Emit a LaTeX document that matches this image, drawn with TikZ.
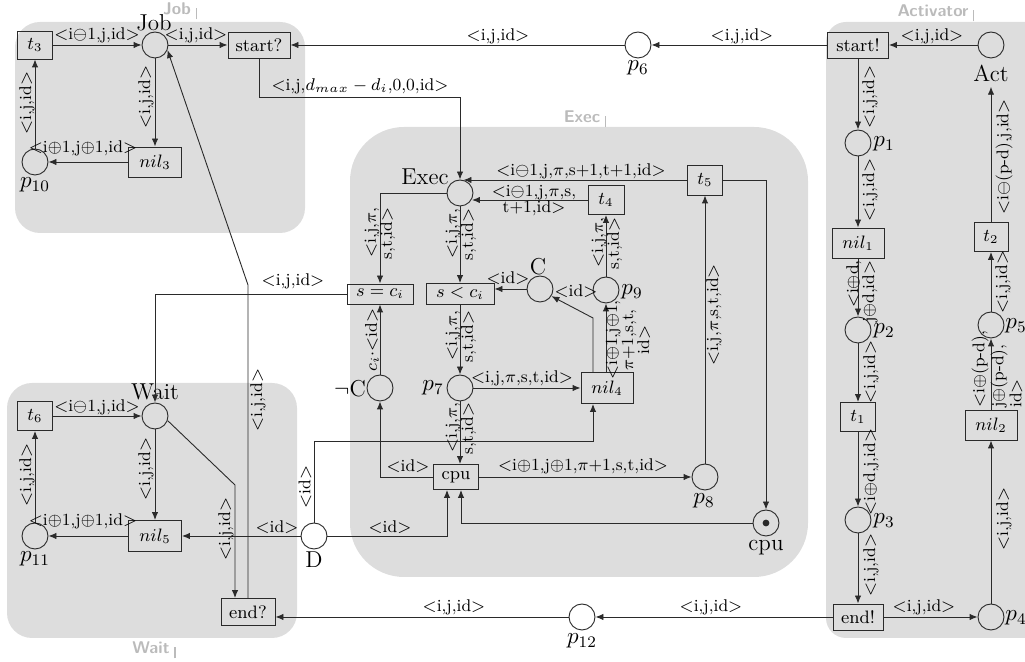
\RequirePackage{fix-cm}
\documentclass[tikz,border=0pt]{standalone}
\usetikzlibrary{arrows.meta}
\definecolor{modgray}{HTML}{DDDDDD}
\definecolor{titlegray}{HTML}{BBBBBB}
\definecolor{ln}{HTML}{2A2A2A}
\newcommand\lAng{$<$}
\newcommand\rAng{$>$}
\tikzset{
 place/.style={circle, draw=ln, line width=0.45pt, minimum size=13pt, inner sep=0pt},
 trans/.style={draw=ln, line width=0.45pt, inner sep=0pt, font=\fontsize{9}{10}\selectfont},
 lbl/.style={inner sep=0pt, font=\fontsize{8.5}{8}\selectfont},
 rlbl/.style={lbl, rotate=90},
 big/.style={inner sep=0pt, font=\fontsize{11.5}{12}\selectfont},
 arc/.style={draw=ln, line width=0.45pt, -{Latex[length=4pt,width=3.2pt]}},
 modtitle/.style={text=titlegray, font=\sffamily\bfseries\fontsize{8.5}{9}\selectfont, inner sep=0pt},
 tick/.style={draw=titlegray, line width=0.6pt},
}
\begin{document}
\begin{tikzpicture}[x=0.5pt,y=-0.5pt]
\useasboundingbox (0,0) rectangle (1025,662);
% modules
\fill[modgray, rounded corners=12.5pt] (15,22) rectangle (305,233);
\fill[modgray, rounded corners=27pt] (350,127) rectangle (808,577);
\fill[modgray, rounded corners=10pt] (826,22) rectangle (1060,638);
\fill[modgray, rounded corners=12.5pt] (7,383) rectangle (297,638);
\node[modtitle] (mJob) at (177,9) {Job};
\draw[tick] ([xshift=2.5pt,yshift=-2pt]mJob.south east) -- ++(0,-11);
\node[modtitle] (mExec) at (582,117) {Exec};
\draw[tick] ([xshift=2.5pt,yshift=-2pt]mExec.south east) -- ++(0,-11);
\node[modtitle] (mAct) at (933,11) {Activator};
\draw[tick] ([xshift=2.5pt,yshift=-2pt]mAct.south east) -- ++(0,-11);
\node[modtitle] (mWait) at (151,648) {Wait};
\draw[tick] ([xshift=2.5pt,yshift=-2pt]mWait.south east) -- ++(0,-11);

% Job module
\node[trans, minimum width=17.5pt, minimum height=14pt] (t3) at (35,45) {$t_3$};
\node[place] (Job) at (155,45) {};
\node[big] (lJob) at (154,23) {Job};
\node[trans, minimum width=31pt, minimum height=13pt] (startq) at (259,45) {start?};
\node[trans, minimum width=26.5pt, minimum height=15pt] (nil3) at (155,162) {$nil_3$};
\node[place] (p10) at (35,162) {};
\node[big] (lp10) at (35,185) {$p_{10}$};

% top
\node[place] (p6) at (638,45) {};
\node[big] (lp6) at (638,68) {$p_6$};

% Activator
\node[trans, minimum width=30.5pt, minimum height=13pt] (startb) at (858,45) {start!};
\node[place] (Act) at (991,45) {};
\node[big] (lAct) at (991,73) {Act};
\node[place] (p1) at (858,143) {};
\node[big] (lp1) at (884,144) {$p_1$};
\node[trans, minimum width=26pt, minimum height=15pt] (nil1) at (858,243) {$nil_1$};
\node[place] (p2) at (858,330) {};
\node[big] (lp2) at (884,331) {$p_2$};
\node[trans, minimum width=17.5pt, minimum height=14.5pt] (t1) at (858,417) {$t_1$};
\node[place] (p3) at (858,520) {};
\node[big] (lp3) at (884,521) {$p_3$};
\node[trans, minimum width=25pt, minimum height=13pt] (endb) at (858,617) {end!};
\node[place] (p4) at (991,617) {};
\node[big] (lp4) at (1016,618) {$p_4$};
\node[trans, minimum width=26pt, minimum height=15pt] (nil2) at (991,425) {$nil_2$};
\node[place] (p5) at (991,325) {};
\node[big] (lp5) at (1016,326) {$p_5$};
\node[trans, minimum width=17pt, minimum height=14.5pt] (t2) at (991,237) {$t_2$};

% Exec module
\node[place] (Exec) at (460,193) {};
\node[big] (lExec) at (425,177) {Exec};
\node[trans, minimum width=17.5pt, minimum height=15pt] (t5) at (705,180) {$t_5$};
\node[trans, minimum width=18pt, minimum height=14.5pt] (t4) at (606,200) {$t_4$};
\node[trans, minimum width=33pt, minimum height=10pt] (sc) at (380,294) {$s = c_i$};
\node[trans, minimum width=34pt, minimum height=10.5pt] (sl) at (460,294) {$s < c_i$};
\node[place] (C) at (540,289) {};
\node[big] (lC) at (538,267) {C};
\node[place] (p9) at (606,290) {};
\node[big] (lp9) at (632,292) {$p_9$};
\node[trans, minimum width=26pt, minimum height=15.5pt] (nil4) at (607,388) {$nil_4$};
\node[place] (p7) at (460,388) {};
\node[big] (lp7) at (433,388) {$p_7$};
\node[place] (nC) at (380,388) {};
\node[big] (lnC) at (350,389) {$\neg$C};
\node[trans, minimum width=22.5pt, minimum height=12.5pt] (cpuT) at (456,477) {cpu};
\node[place] (p8) at (705,477) {};
\node[big] (lp8) at (704,501) {$p_8$};
\node[place] (cpuP) at (766,523) {};
\fill[ln] (cpuP) circle (1.7pt);
\node[big] (lcpuP) at (766,548) {cpu};
\node[place] (D) at (314,536) {};
\node[big] (lD) at (314,560) {D};

% Wait module
\node[trans, minimum width=17.5pt, minimum height=14.5pt] (t6) at (35,416) {$t_6$};
\node[place] (Wait) at (155,416) {};
\node[big] (lWait) at (155,392) {Wait};
\node[trans, minimum width=26.5pt, minimum height=15.5pt] (nil5) at (155,536) {$nil_5$};
\node[place] (p11) at (35,536) {};
\node[big] (lp11) at (35,559) {$p_{11}$};
\node[trans, minimum width=27pt, minimum height=13.5pt] (endq) at (248,612) {end?};
\node[place] (p12) at (582,617) {};
\node[big] (lp12) at (582,641) {$p_{12}$};

% coordinates for bends
\coordinate (b1) at (460,97);
\coordinate (k1) at (593,318);
\coordinate (k2) at (593,441);
\coordinate (k3) at (447,536);
\coordinate (k4) at (461,523);
\coordinate (k5) at (235,485);
\coordinate (k6) at (248,285);

% Job connectors
\draw[arc] (t3.east) -- (Job.west);
\draw[arc] (Job.east) -- (startq.west);
\draw[arc] (Job.south) -- (nil3.north);
\draw[arc] (nil3.west) -- (p10.east);
\draw[arc] (p10.north) -- (t3.south);
\draw[arc] (p6.west) -- (startq.east);
\draw[arc] (startb.west) -- (p6.east);
\draw[arc] (Act.west) -- (startb.east);
\draw[arc] (startq.south) |- (b1) -- (Exec.north);
\draw[arc] (k6 |- endq.north) -- (k6) -- (Job.-22);

% Activator connectors
\draw[arc] (startb.south) -- (p1.north);
\draw[arc] (p1.south) -- (nil1.north);
\draw[arc] (nil1.south) -- (p2.north);
\draw[arc] (p2.south) -- (t1.north);
\draw[arc] (t1.south) -- (p3.north);
\draw[arc] (p3.south) -- (endb.north);
\draw[arc] (endb.east) -- (p4.west);
\draw[arc] (p4.north) -- (nil2.south);
\draw[arc] (nil2.north) -- (p5.south);
\draw[arc] (p5.north) -- (t2.south);
\draw[arc] (t2.north) -- ([yshift=-2.5pt]t2.north |- lAct.south);
\draw[arc] (endb.west) -- (p12.east);
\draw[arc] (p12.west) -- (p12.west -| endq.east);

% Exec connectors
\draw[arc] (t5.west) -- (t5.west -| Exec.75);
\draw[arc] (t4.west) -- (t4.west -| Exec.-27);
\draw[arc] (Exec.west) -| (sc.north);
\draw[arc] (Exec.south) -- (sl.north);
\draw[arc] (C.west) -- (C.west -| sl.east);
\draw[arc] (nil4.north -| k1) -- (k1) -- (C.-32);
\draw[arc] (p9.north) -- (t4.south);
\draw[arc] (nil4.north -| p9) -- (p9.south);
\draw[arc] (sl.south) -- (p7.north);
\draw[arc] (p7.east) -- (nil4.west);
\draw[arc] (p7.south) -- (cpuT.north -| p7);
\draw[arc] (cpuT.west) -| (nC.south);
\draw[arc] (nC.north) -- (sc.south);
\draw[arc] (cpuT.east) -- (p8.west);
\draw[arc] (p8.north) -- (t5.south);
\draw[arc] (t5.east) -| (cpuP.north);
\draw[arc] (cpuP.west) -- (k4) -- (k4 |- cpuT.south);
\draw[arc] (D.north) |- (k2) -- (k2 |- nil4.south);
\draw[arc] (D.east) -- (k3) -- (k3 |- cpuT.south);
\draw[arc] (D.west) -- (nil5.east);
\draw[arc] (sc.west) -| (Wait.north);

% Wait connectors
\draw[arc] (nil5.west) -- (p11.east);
\draw[arc] (p11.north) -- (t6.south);
\draw[arc] (t6.east) -- (Wait.west);
\draw[arc] (Wait.south) -- (nil5.north);
\draw[arc] (Wait.-20) -- (k5) -- (k5 |- endq.north);

% horizontal labels
\node[lbl] (a1) at (97,35) {\lAng i$\ominus$1,j,id\rAng};
\node[lbl] (a2) at (196,35) {\lAng i,j,id\rAng};
\node[lbl] (a3) at (83,148) {\lAng i$\oplus$1,j$\oplus$1,id\rAng};
\node[lbl] (a4) at (498,36) {\lAng i,j,id\rAng};
\node[lbl] (a5) at (742,36) {\lAng i,j,id\rAng};
\node[lbl] (a6) at (932,36) {\lAng i,j,id\rAng};
\node[lbl] (a7) at (360,86) {\lAng i,j,$d_{max} - d_i$,0,0,id\rAng};
\node[lbl] (a8) at (581,171) {\lAng i$\ominus$1,j,$\pi$,s+1,t+1,id\rAng};
\node[lbl, align=center] (a9) at (534,200) {\lAng i$\ominus$1,j,$\pi$,s,\\t+1,id\rAng};
\node[lbl] (a10) at (508,278) {\lAng id\rAng};
\node[lbl] (a11) at (576,291) {\lAng id\rAng};
\node[lbl] (a12) at (522,378) {\lAng i,j,$\pi$,s,t,id\rAng};
\node[lbl] (a13) at (408,466) {\lAng id\rAng};
\node[lbl] (a14) at (583,466) {\lAng i$\oplus$1,j$\oplus$1,$\pi$+1,s,t,id\rAng};
\node[lbl] (a15) at (390,527) {\lAng id\rAng};
\node[lbl] (a16) at (277,527) {\lAng id\rAng};
\node[lbl] (a17) at (293,281) {\lAng i,j,id\rAng};
\node[lbl] (a18) at (97,407) {\lAng i$\ominus$1,j,id\rAng};
\node[lbl] (a19) at (83,521) {\lAng i$\oplus$1,j$\oplus$1,id\rAng};
\node[lbl] (a20) at (924,607) {\lAng i,j,id\rAng};
\node[lbl] (a21) at (711,607) {\lAng i,j,id\rAng};
\node[lbl] (a22) at (454,607) {\lAng i,j,id\rAng};

% rotated single-line labels
\node[rlbl] (r1) at (146,97) {\lAng i,j,id\rAng};
\node[rlbl] (r2) at (27,103) {\lAng i,j,id\rAng};
\node[rlbl] (r3) at (870,97) {\lAng i,j,id\rAng};
\node[rlbl] (r4) at (870,190) {\lAng i,j,id\rAng};
\node[rlbl] (r5) at (871,372) {\lAng i,j,id\rAng};
\node[rlbl] (r6) at (871,472) {\lAng i$\oplus$d,j,id\rAng};
\node[rlbl] (r7) at (871,565) {\lAng i,j,id\rAng};
\node[rlbl] (r8) at (1004,519) {\lAng i,j,id\rAng};
\node[rlbl] (r9) at (1003,282) {\lAng i,j,id\rAng};
\node[rlbl] (r10) at (1004,157) {\lAng i$\ominus$(p-d),j,id\rAng};
\node[rlbl] (r11) at (714,315) {\lAng i,j,$\pi$,s,t,id\rAng};
\node[rlbl] (r12) at (372,340) {$c_i\cdot$\lAng id\rAng};
\node[rlbl] (r13) at (146,469) {\lAng i,j,id\rAng};
\node[rlbl] (r14) at (27,475) {\lAng i,j,id\rAng};
\node[rlbl] (r15) at (226,529) {\lAng i,j,id\rAng};
\node[rlbl] (r16) at (258,400) {\lAng i,j,id\rAng};
\node[rlbl] (r17) at (305,487) {\lAng id\rAng};

% rotated multi-line labels
\node[rlbl, anchor=east, align=right] (m1) at (380,207) {\lAng i,j,$\pi$,\\s,t,id\rAng};
\node[rlbl, anchor=east, align=right] (m2) at (461,208) {\lAng i,j,$\pi$,\\s,t,id\rAng};
\node[rlbl, anchor=east, align=right] (m3) at (607,217) {\lAng i,j,$\pi$,\\s,t,id\rAng};
\node[rlbl, anchor=east, align=right] (m4) at (461,310) {\lAng i,j,$\pi$,\\s,t,id\rAng};
\node[rlbl, anchor=east, align=right] (m5) at (461,402) {\lAng i,j,$\pi$,\\s,t,id\rAng};
\node[rlbl, anchor=east, align=right] (m6) at (862,260) {\lAng i$\oplus$d,\\j$\oplus$d,id\rAng};
\node[rlbl, align=center] (m7) at (628,340) {\lAng i$\oplus$1,j$\oplus$1,\\$\pi$+1,s,t,\\id\rAng};
\node[rlbl, anchor=west, align=left, font=\fontsize{8.5}{6.8}\selectfont] (m8) at (997,408) {\lAng i$\oplus$(p-d),\\j$\oplus$(p-d),\\id\rAng};
\end{tikzpicture}
\end{document}
